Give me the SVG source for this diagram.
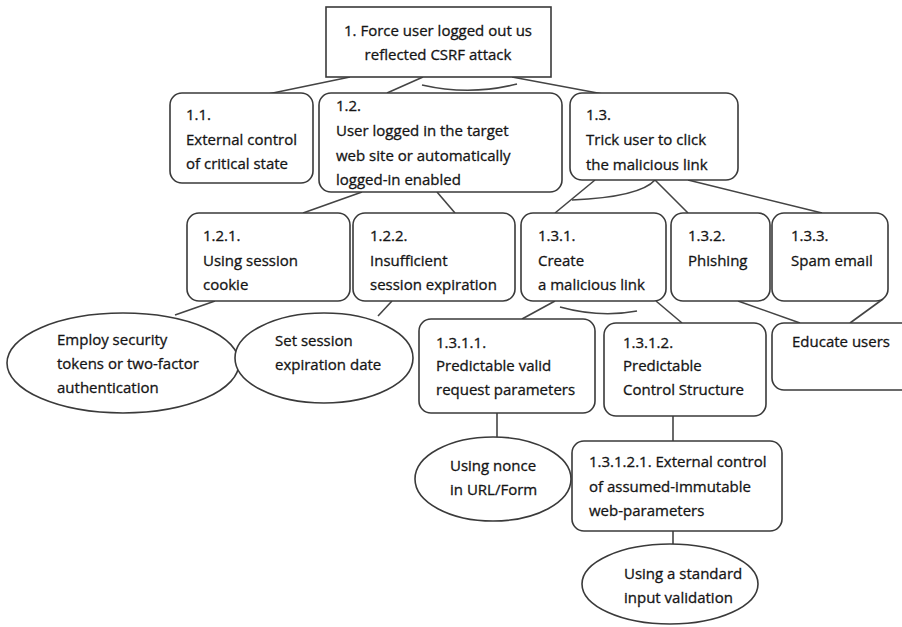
<svg xmlns="http://www.w3.org/2000/svg" width="902" height="627" viewBox="0 0 902 627">
<style>
.box{fill:#fff;stroke:#3a3a3a;stroke-width:1.6}
.ell{fill:#fff;stroke:#3a3a3a;stroke-width:1.6}
.t{font-family:"Open Sans","Liberation Sans",sans-serif;font-size:15px;fill:#151515;stroke:#151515;stroke-width:0.3}
.tc{text-anchor:middle}
.c{fill:none;stroke:#444;stroke-width:1.6}
</style>
<rect width="902" height="627" fill="#fff"/>
<g id="connectors">
<path class="c" d="M350,77 L268,94"/>
<path class="c" d="M423,77 L387,93"/>
<path class="c" d="M422,85 Q470,96 517,84"/>
<path class="c" d="M512,77 L603,94"/>
<path class="c" d="M362,192 L303,213"/>
<path class="c" d="M437,192 L455,213"/>
<path class="c" d="M595,180 L555,213"/>
<path class="c" d="M655,180 Q640,197 572,200"/>
<path class="c" d="M655,180 L688,213"/>
<path class="c" d="M688,180 L822,213"/>
<path class="c" d="M215,301 L175,315"/>
<path class="c" d="M392,301 L378,316"/>
<path class="c" d="M555,301 L522,319"/>
<path class="c" d="M560,307 Q600,318 637,311"/>
<path class="c" d="M656,301 L682,323"/>
<path class="c" d="M738,301 L800,323"/>
<path class="c" d="M883,299 L850,323"/>
<path class="c" d="M497,413 L497,438"/>
<path class="c" d="M673,416 L673,441"/>
<path class="c" d="M673,531 L673,544"/>
</g>
<g id="n1">
<rect class="box" x="326" y="7" width="225" height="70"/>
<text class="t tc" x="438" y="36">1. Force user logged out us</text>
<text class="t tc" x="438" y="60">reflected CSRF attack</text>
</g>
<g id="n1_1">
<rect class="box" x="170" y="93" width="143" height="90" rx="12"/>
<text class="t" x="186" y="120">1.1.</text>
<text class="t" x="186" y="145">External control</text>
<text class="t" x="186" y="169">of critical state</text>
</g>
<g id="n1_2">
<rect class="box" x="319" y="93" width="243" height="99" rx="12"/>
<text class="t" x="336" y="111">1.2.</text>
<text class="t" x="336" y="136">User logged in the target</text>
<text class="t" x="336" y="161">web site or automatically</text>
<text class="t" x="336" y="185">logged-in enabled</text>
</g>
<g id="n1_3">
<rect class="box" x="570" y="93" width="168" height="87" rx="12"/>
<text class="t" x="586" y="120">1.3.</text>
<text class="t" x="586" y="145">Trick user to click</text>
<text class="t" x="586" y="170">the malicious link</text>
</g>
<g id="n1_2_1">
<rect class="box" x="187" y="213" width="163" height="88" rx="12"/>
<text class="t" x="203" y="241">1.2.1.</text>
<text class="t" x="203" y="266">Using session</text>
<text class="t" x="203" y="290">cookie</text>
</g>
<g id="n1_2_2">
<rect class="box" x="353" y="213" width="162" height="88" rx="12"/>
<text class="t" x="370" y="241">1.2.2.</text>
<text class="t" x="370" y="266">Insufficient</text>
<text class="t" x="370" y="290">session expiration</text>
</g>
<g id="n1_3_1">
<rect class="box" x="521" y="213" width="145" height="88" rx="12"/>
<text class="t" x="538" y="241">1.3.1.</text>
<text class="t" x="538" y="266">Create</text>
<text class="t" x="538" y="290">a malicious link</text>
</g>
<g id="n1_3_2">
<rect class="box" x="671" y="213" width="99" height="88" rx="12"/>
<text class="t" x="688" y="241">1.3.2.</text>
<text class="t" x="688" y="266">Phishing</text>
</g>
<g id="n1_3_3">
<rect class="box" x="772" y="213" width="116" height="88" rx="12"/>
<text class="t" x="791" y="241">1.3.3.</text>
<text class="t" x="791" y="266">Spam email</text>
</g>
<g id="m_tokens">
<ellipse class="ell" cx="123" cy="363" rx="116" ry="50"/>
<text class="t" x="57" y="345">Employ security</text>
<text class="t" x="57" y="369">tokens or two-factor</text>
<text class="t" x="57" y="393">authentication</text>
</g>
<g id="m_expiration">
<ellipse class="ell" cx="324" cy="358" rx="89" ry="45"/>
<text class="t" x="275" y="346">Set session</text>
<text class="t" x="275" y="370">expiration date</text>
</g>
<g id="n1_3_1_1">
<rect class="box" x="419" y="319" width="176" height="94" rx="12"/>
<text class="t" x="436" y="348">1.3.1.1.</text>
<text class="t" x="436" y="371">Predictable valid</text>
<text class="t" x="436" y="395">request parameters</text>
</g>
<g id="n1_3_1_2">
<rect class="box" x="604" y="323" width="162" height="93" rx="12"/>
<text class="t" x="623" y="348">1.3.1.2.</text>
<text class="t" x="623" y="371">Predictable</text>
<text class="t" x="623" y="395">Control Structure</text>
</g>
<g id="m_educate">
<rect class="box" x="772" y="323" width="145" height="67" rx="12"/>
<text class="t" x="792" y="347">Educate users</text>
</g>
<g id="m_nonce">
<ellipse class="ell" cx="493" cy="479" rx="78" ry="42"/>
<text class="t" x="450" y="471">Using nonce</text>
<text class="t" x="450" y="495">in URL/Form</text>
</g>
<g id="n1_3_1_2_1">
<rect class="box" x="572" y="441" width="210" height="90" rx="12"/>
<text class="t" x="589" y="467">1.3.1.2.1. External control</text>
<text class="t" x="589" y="492">of assumed-immutable</text>
<text class="t" x="589" y="516">web-parameters</text>
</g>
<g id="m_validation">
<ellipse class="ell" cx="670" cy="584" rx="88" ry="40"/>
<text class="t" x="624" y="579">Using a standard</text>
<text class="t" x="624" y="603">input validation</text>
</g>
</svg>
